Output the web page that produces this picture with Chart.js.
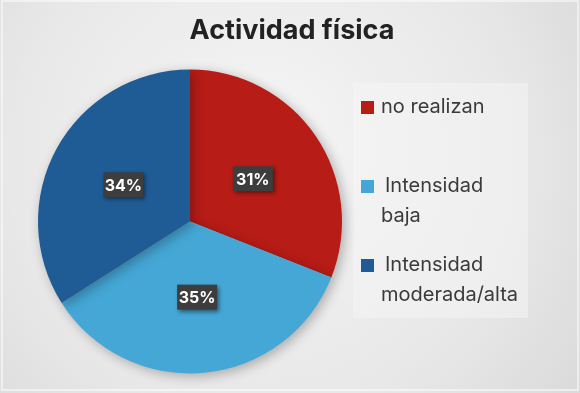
<!DOCTYPE html>
<html>
<head>
<meta charset="utf-8">
<script src="https://cdn.jsdelivr.net/npm/chart.js@4.4.1/dist/chart.umd.min.js"></script>
<style>
  html, body { margin: 0; padding: 0; background: #e2e2e2; }
  #wrap { width: 580px; height: 393px; position: relative; }
</style>
</head>
<body>
<div id="wrap"><canvas id="chart" width="580" height="393"></canvas></div>
<script>
const titleText = 'Actividad física';
const categories = ['no realizan', ['Intensidad', 'baja'], ['Intensidad', 'moderada/alta']];
const values = [31, 35, 34];
const colors = ['#b71c17', '#45a7d6', '#1f5b95'];

const FONT = 'Inter, "Noto Sans", sans-serif';

// gray backdrop with a lighter middle, plus the lighter legend panel
const backdrop = {
    id: 'backdrop',
    beforeDraw(chart) {
        const ctx = chart.ctx;
        const w = chart.width, h = chart.height;
        ctx.save();
        const g = ctx.createRadialGradient(w * 0.45, h * 0.35, 20, w * 0.45, h * 0.45, w * 0.7);
        g.addColorStop(0, '#f4f4f4');
        g.addColorStop(0.6, '#e8e8e8');
        g.addColorStop(1, '#d8d8d8');
        ctx.fillStyle = g;
        ctx.fillRect(0, 0, w, h);
        ctx.fillStyle = 'rgba(245,245,245,0.5)';
        ctx.fillRect(353, 83, 175, 235);
        ctx.strokeStyle = 'rgba(255,255,255,0.5)';
        ctx.lineWidth = 2;
        ctx.strokeRect(2, 1, w - 4, h - 4);
        ctx.restore();
    }
};

// title centred on the whole canvas
const topTitle = {
    id: 'topTitle',
    afterDraw(chart) {
        const ctx = chart.ctx;
        ctx.save();
        ctx.font = 'bold 27px ' + FONT;
        ctx.fillStyle = '#222222';
        ctx.textAlign = 'center';
        ctx.textBaseline = 'middle';
        ctx.fillText(titleText, 292, 31);
        ctx.restore();
    }
};

// soft shadow under the pie
const pieShadow = {
    id: 'pieShadow',
    beforeDatasetsDraw(chart) {
        const ctx = chart.ctx;
        ctx.save();
        ctx.shadowColor = 'rgba(0,0,0,0.28)';
        ctx.shadowBlur = 12;
        ctx.shadowOffsetX = 3;
        ctx.shadowOffsetY = 3;
    },
    afterDatasetsDraw(chart) {
        chart.ctx.restore();
    }
};

// dark boxes with percentages on each slice
const sliceLabels = {
    id: 'sliceLabels',
    afterDatasetsDraw(chart) {
        const ctx = chart.ctx;
        const meta = chart.getDatasetMeta(0);
        const total = values.reduce((a, b) => a + b, 0);
        ctx.save();
        ctx.font = 'bold 16px ' + FONT;
        ctx.textAlign = 'center';
        ctx.textBaseline = 'middle';
        meta.data.forEach((arc, i) => {
            const p = arc.getCenterPoint();
            const txt = Math.round(values[i] / total * 100) + '%';
            const bw = 40, bh = 25;
            ctx.save();
            ctx.shadowColor = 'rgba(0,0,0,0.45)';
            ctx.shadowBlur = 4;
            ctx.shadowOffsetX = 2;
            ctx.shadowOffsetY = 2;
            ctx.fillStyle = '#3d3d3d';
            ctx.fillRect(p.x - bw / 2, p.y - bh / 2, bw, bh);
            ctx.restore();
            ctx.fillStyle = '#ffffff';
            ctx.fillText(txt, p.x, p.y + 1);
        });
        ctx.restore();
    }
};

// legend on the right, with wrapped labels
const sideLegend = {
    id: 'sideLegend',
    afterDraw(chart) {
        const ctx = chart.ctx;
        const rows = [107, 186, 265];
        ctx.save();
        ctx.font = '20px ' + FONT;
        ctx.textBaseline = 'middle';
        categories.forEach((lab, i) => {
            const y = rows[i];
            ctx.fillStyle = colors[i];
            ctx.fillRect(361, y - 6, 13, 13);
            ctx.fillStyle = '#3a3a3a';
            const lines = Array.isArray(lab) ? lab : [lab];
            lines.forEach((ln, j) => {
                const x = (j === 0 && lines.length > 1) ? 385 : 381;
                ctx.fillText(ln, x, y + j * 30);
            });
        });
        ctx.restore();
    }
};

new Chart(document.getElementById('chart'), {
    type: 'pie',
    data: {
        labels: categories,
        datasets: [{
            data: values,
            backgroundColor: colors,
            borderWidth: 0
        }]
    },
    options: {
        responsive: false,
        animation: false,
        layout: { padding: { left: 38, right: 238, top: 69, bottom: 19 } },
        plugins: {
            legend: { display: false },
            tooltip: { enabled: false },
            title: { display: false }
        }
    },
    plugins: [backdrop, pieShadow, sliceLabels, sideLegend, topTitle]
});
</script>
</body>
</html>
